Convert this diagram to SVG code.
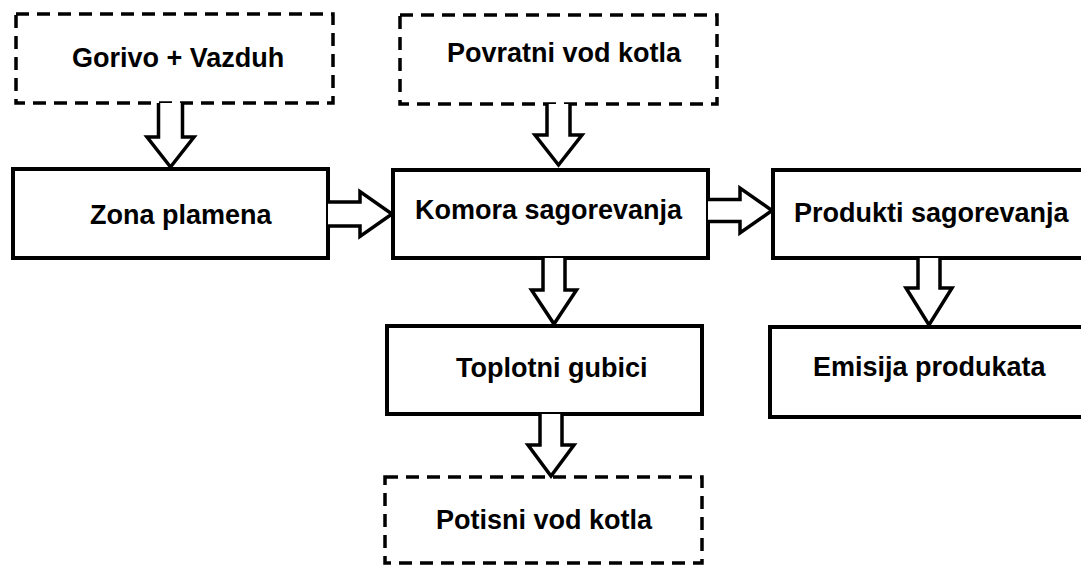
<svg xmlns="http://www.w3.org/2000/svg" width="1081" height="566" viewBox="0 0 1081 566">
<style>
.box{fill:#fff;stroke:#000;stroke-width:4}
.dbox{fill:#fff;stroke:#000;stroke-width:3.5;stroke-dasharray:13 8}
.arr{fill:#fff;stroke:#000;stroke-width:3.5;stroke-linejoin:miter}
.t{font-family:"Liberation Sans",Arial,sans-serif;font-weight:bold;font-size:27px;fill:#000}
</style>
<rect width="1081" height="566" fill="#fff"/>
<g id="n-gorivo"><rect class="dbox" x="16" y="14" width="317" height="89"/><text class="t" x="72" y="67">Gorivo + Vazduh</text></g>
<g id="n-povratni"><rect class="dbox" x="400" y="15" width="317" height="89"/><text class="t" x="447" y="62">Povratni vod kotla</text></g>
<g id="n-zona"><rect class="box" x="13" y="169" width="315" height="89"/><text class="t" x="90" y="224">Zona plamena</text></g>
<g id="n-komora"><rect class="box" x="393" y="170" width="315" height="88"/><text class="t" x="415" y="219">Komora sagorevanja</text></g>
<g id="n-produkti"><rect class="box" x="773" y="170" width="330" height="88"/><text class="t" x="794" y="222">Produkti sagorevanja</text></g>
<g id="n-toplotni"><rect class="box" x="387" y="326" width="315" height="88"/><text class="t" x="456" y="377">Toplotni gubici</text></g>
<g id="n-emisija"><rect class="box" x="770" y="327" width="330" height="90"/><text class="t" x="813" y="376">Emisija produkata</text></g>
<g id="n-potisni"><rect class="dbox" x="385" y="477" width="317" height="86"/><text class="t" x="436" y="529">Potisni vod kotla</text></g>
<g id="connectors">
<polyline class="arr" points="158.5,103 158.5,137 147,137 170.5,167 194,137 182.5,137 182.5,103"/>
<polyline class="arr" points="547,104 547,135 535,135 558.5,165 582,135 570,135 570,104"/>
<polyline class="arr" points="328,202 360,202 360,191.5 392,214 360,236.5 360,226 328,226"/>
<polyline class="arr" points="708,199.5 740,199.5 740,188 772,210.5 740,233 740,221.5 708,221.5"/>
<polyline class="arr" points="543,258 543,290 531.5,290 554,324 576.5,290 565,290 565,258"/>
<polyline class="arr" points="918,258 918,288 906,288 929,325 952,288 940,288 940,258"/>
<polyline class="arr" points="540,414 540,445 528,445 551,476 574,445 562,445 562,414"/>
</g>
</svg>
